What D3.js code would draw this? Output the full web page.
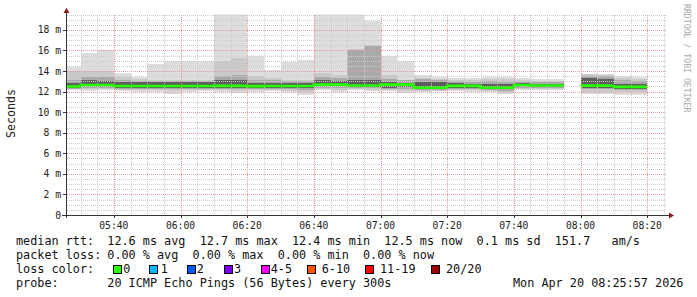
<!DOCTYPE html>
<html>
<head>
<meta charset="utf-8">
<script src="https://cdn.jsdelivr.net/npm/d3@7"></script>
<style>
body { margin: 0; background: #fff; }
text { font-family: "DejaVu Sans Mono", monospace; white-space: pre; }
</style>
</head>
<body>
<svg id="chart" width="697" height="297"></svg>
<script>
// 5 minute bins (start time), ping rtt in ms
var times = ["05:25", "05:30", "05:35", "05:40", "05:45", "05:50", "05:55",
    "06:00", "06:05", "06:10", "06:15", "06:20", "06:25", "06:30", "06:35",
    "06:40", "06:45", "06:50", "06:55", "07:00", "07:05", "07:10", "07:15",
    "07:20", "07:25", "07:30", "07:35", "07:40", "07:45", "07:50", "07:55",
    "08:00", "08:05", "08:10", "08:15"];

var rttMax = [14.4, 15.8, 16.05, 13.85, 13.45, 14.7, 15.0, 15.0, 15.0, 19.8,
    19.8, 15.5, 14.1, 14.9, 15.1, 19.8, 19.8, 19.8, 18.9, 15.5, 15.0, 13.6,
    13.4, 13.3, 13.3, 13.4, 13.45, 13.3, 13.2, 13.2, null, 13.75, 13.75, 13.5,
    13.4];
var rttHi2 = [14.0, 14.05, 14.0, 13.45, 13.2, 13.15, 13.1, 13.1, 13.1, 15.0,
    15.3, 13.5, 13.3, 13.1, 13.1, 13.85, 13.6, 16.1, 16.5, 13.6, 13.1, 13.3,
    13.2, 13.1, 13.1, 13.2, 13.2, 13.1, 13.05, 13.05, null, 13.7, 13.65, 13.3,
    13.2];
var rttHi3 = [13.1, 13.45, 13.4, 13.1, 13.0, 13.0, 13.0, 13.0, 13.0, 13.5,
    13.6, 13.1, 13.1, 13.0, 13.0, 13.45, 13.3, 16.0, 16.4, 13.2, 13.1, 13.2,
    13.15, 13.0, 12.95, 13.0, 12.95, 12.95, 12.9, 12.9, null, 13.55, 13.5,
    13.1, 13.0];
var rttHi4 = [12.8, 13.1, 13.05, 12.95, 12.9, 12.95, 12.9, 12.9, 12.9, 13.1,
    13.1, 12.85, 12.85, 12.85, 12.85, 13.1, 13.0, 13.1, 13.1, 12.9, 12.85,
    12.95, 12.95, 12.8, 12.7, 12.75, 12.7, 12.8, 12.7, 12.7, null, 13.3, 13.25,
    12.75, 12.7];
var median = [12.5, 12.65, 12.65, 12.55, 12.55, 12.55, 12.55, 12.55, 12.55,
    12.56, 12.56, 12.53, 12.55, 12.55, 12.55, 12.68, 12.68, 12.6, 12.6, 12.68,
    12.68, 12.37, 12.37, 12.56, 12.56, 12.37, 12.37, 12.65, 12.6, 12.6, null,
    12.58, 12.58, 12.46, 12.46];
var rttLo4 = [12.4, 12.5, 12.5, 12.4, 12.4, 12.4, 12.4, 12.4, 12.4, 12.4,
    12.4, 12.4, 12.4, 12.4, 12.4, 12.5, 12.5, 12.45, 12.45, 12.4, 12.45, 12.25,
    12.25, 12.4, 12.4, 12.25, 12.25, 12.5, 12.45, 12.45, null, 12.4, 12.4,
    12.3, 12.3];
var rttLo3 = [12.3, 12.4, 12.4, 12.3, 12.25, 12.3, 12.25, 12.3, 12.3, 12.3,
    12.25, 12.3, 12.3, 12.25, 12.2, 12.4, 12.35, 12.35, 12.35, 12.3, 12.3,
    12.2, 12.2, 12.3, 12.3, 12.15, 12.1, 12.4, 12.35, 12.35, null, 12.25,
    12.25, 12.2, 12.15];
var rttLo2 = [12.22, 12.25, 12.28, 12.2, 12.12, 12.15, 12.05, 12.15, 12.2,
    12.15, 12.1, 12.15, 12.2, 12.1, 12.0, 12.25, 12.2, 12.25, 12.2, 12.2, 12.1,
    12.1, 12.1, 12.2, 12.15, 12.1, 12.0, 12.3, 12.25, 12.25, null, 12.0, 12.0,
    12.0, 11.95];
var rttMin = [12.15, 12.1, 12.12, 12.05, 12.0, 12.0, 11.8, 12.0, 12.05, 11.93,
    11.84, 12.0, 12.05, 11.95, 11.7, 12.15, 12.0, 12.15, 12.1, 12.05, 11.85,
    12.0, 12.05, 12.1, 12.0, 12.0, 11.8, 12.15, 12.15, 12.15, null, 11.75,
    11.75, 11.7, 11.7];
var loss = [0, 0, 0, 0, 0, 0, 0, 0, 0, 0, 0, 0, 0, 0, 0, 0, 0, 0, 0, 0, 0, 0,
    0, 0, 0, 0, 0, 0, 0, 0, null, 0, 0, 0, 0];

var lossLabels = ["0", "1", "2", "3", "4-5", "6-10", "11-19", "20/20"];
var lossColors = ["#26ff00", "#00b8ff", "#0059ff", "#7e00ff", "#ff00ff",
    "#ff5500", "#ff0000", "#a10000"];
var yTicks = [0, 2, 4, 6, 8, 10, 12, 14, 16, 18];

var statLines = [
    ["median rtt:", "12.6 ms avg  12.7 ms max  12.4 ms min  12.5 ms now  0.1 ms sd  151.7   am/s"],
    ["packet loss:", "0.00 % avg  0.00 % max  0.00 % min  0.00 % now"],
    ["loss color:", ""],
    ["probe:", "20 ICMP Echo Pings (56 Bytes) every 300s"]
];
var stamp = "Mon Apr 20 08:25:57 2026";

//Layout (names avoid window.top etc.)
var pLeft = 67, pRight = 667, pTop = 14.5, pBottom = 215;
var parse = d3.timeParse("%Y-%m-%d %H:%M:%S");
var t0 = parse("2026-04-20 05:25:57"),
    t1 = parse("2026-04-20 08:25:57");

var x = d3.scaleTime().domain([t0, t1]).range([pLeft, pRight]);
var y = d3.scaleLinear().domain([0, 19.5]).range([pBottom, pTop]);

var svg = d3.select("#chart");
svg.append("rect").attr("width", 697).attr("height", 297).attr("fill", "#fff");

svg.append("defs").append("clipPath").attr("id", "plot")
    .append("rect")
    .attr("x", pLeft).attr("y", pTop)
    .attr("width", pRight - pLeft).attr("height", pBottom - pTop);

var bins = times.map(function(t, i) {
    var s = parse("2026-04-20 " + t + ":00");
    return {i: i, start: s, end: d3.timeMinute.offset(s, 5)};
});

//Smoke: outer pings light, inner pings dark
var bands = [
    {lo: rttMin, hi: rttMax, color: "#dddddd"},
    {lo: rttLo2, hi: rttHi2, color: "#c9c9c9"},
    {lo: rttLo3, hi: rttHi3, color: "#a9a9a9"},
    {lo: rttLo4, hi: rttHi4, color: "#5e5e5e"}
];

var smoke = svg.append("g").attr("clip-path", "url(#plot)");
bands.forEach(function(b) {
    smoke.append("g").selectAll("rect")
        .data(bins.filter(function(d) { return b.hi[d.i] != null; }))
        .enter().append("rect")
        .attr("x", function(d) { return x(d.start); })
        .attr("width", function(d) { return x(d.end) - x(d.start); })
        .attr("y", function(d) { return y(b.hi[d.i]); })
        .attr("height", function(d) { return y(b.lo[d.i]) - y(b.hi[d.i]); })
        .attr("fill", b.color)
        .attr("shape-rendering", "crispEdges");
});

//Grid
var grid = svg.append("g").attr("shape-rendering", "crispEdges")
    .attr("stroke-dasharray", "1,1").attr("stroke-width", 1);
var minorT = d3.timeMinute.every(5).range(t0, t1);
var majorT = d3.timeMinute.every(20).range(t0, t1);
var minorV = d3.range(0.5, 19.51, 0.5).filter(function(v) { return v % 2; });
var majorV = yTicks.filter(function(v) { return v > 0; });

grid.selectAll(".vmin").data(minorT).enter().append("line")
    .attr("x1", function(d) { return Math.round(x(d)) + 0.5; })
    .attr("x2", function(d) { return Math.round(x(d)) + 0.5; })
    .attr("y1", pTop).attr("y2", pBottom)
    .attr("stroke", "#cccccc");
grid.selectAll(".hmin").data(minorV).enter().append("line")
    .attr("x1", pLeft).attr("x2", pRight)
    .attr("y1", function(d) { return Math.round(y(d)) + 0.5; })
    .attr("y2", function(d) { return Math.round(y(d)) + 0.5; })
    .attr("stroke", "#cccccc");
grid.selectAll(".vmaj").data(majorT).enter().append("line")
    .attr("x1", function(d) { return Math.round(x(d)) + 0.5; })
    .attr("x2", function(d) { return Math.round(x(d)) + 0.5; })
    .attr("y1", pTop).attr("y2", pBottom)
    .attr("stroke", "#e59b9b");
grid.selectAll(".hmaj").data(majorV).enter().append("line")
    .attr("x1", pLeft).attr("x2", pRight)
    .attr("y1", function(d) { return Math.round(y(d)) + 0.5; })
    .attr("y2", function(d) { return Math.round(y(d)) + 0.5; })
    .attr("stroke", "#e59b9b");

//Median line, coloured by loss
var line = d3.line();
var med = svg.append("g").attr("clip-path", "url(#plot)");
bins.forEach(function(d, i) {
    if (median[i] == null) return;
    var pts = [];
    if (i > 0 && median[i - 1] != null) pts.push([x(d.start), y(median[i - 1])]);
    pts.push([x(d.start), y(median[i])], [x(d.end), y(median[i])]);
    var c = loss[i] == 0 ? 0 : loss[i] <= 3 ? loss[i] : loss[i] <= 5 ? 4 :
        loss[i] <= 10 ? 5 : loss[i] < 20 ? 6 : 7;
    med.append("path")
        .attr("d", line(pts))
        .attr("fill", "none")
        .attr("stroke", lossColors[c])
        .attr("stroke-width", 2.6);
});

//Axes
var axisColor = "#333";
svg.append("line").attr("x1", 62).attr("x2", 670)
    .attr("y1", pBottom + 0.5).attr("y2", pBottom + 0.5)
    .attr("stroke", axisColor);
svg.append("line").attr("x1", pLeft - 0.5).attr("x2", pLeft - 0.5)
    .attr("y1", pBottom + 3).attr("y2", 11)
    .attr("stroke", axisColor);
svg.append("path").attr("d", "M669,212.5L674,215.5L669,218.5Z")
    .attr("fill", "#8b1a1a");
svg.append("path").attr("d", "M63.5,13L66.5,8L69.5,13Z")
    .attr("fill", "#8b1a1a");

svg.append("g").selectAll("line").data(yTicks).enter().append("line")
    .attr("x1", pLeft - 4).attr("x2", pLeft)
    .attr("y1", function(d) { return Math.round(y(d)) + 0.5; })
    .attr("y2", function(d) { return Math.round(y(d)) + 0.5; })
    .attr("stroke", axisColor);
svg.append("g").selectAll("line").data(majorT).enter().append("line")
    .attr("x1", function(d) { return Math.round(x(d)) + 0.5; })
    .attr("x2", function(d) { return Math.round(x(d)) + 0.5; })
    .attr("y1", pBottom).attr("y2", pBottom + 3)
    .attr("stroke", axisColor);

svg.append("g").selectAll("text").data(yTicks).enter().append("text")
    .attr("x", 61).attr("y", function(d) { return y(d) + 3.5; })
    .attr("text-anchor", "end")
    .attr("font-size", "9.7px").attr("fill", "#222")
    .text(function(d) { return d ? d + " m" : "0"; });

var fmt = d3.timeFormat("%H:%M");
svg.append("g").selectAll("text").data(majorT).enter().append("text")
    .attr("x", function(d) { return x(d); }).attr("y", 228.5)
    .attr("text-anchor", "middle")
    .attr("font-size", "9.7px").attr("fill", "#222")
    .text(fmt);

svg.append("text")
    .attr("transform", "translate(15,113.5) rotate(-90)")
    .attr("text-anchor", "middle")
    .attr("font-size", "11.6px").attr("fill", "#222")
    .text("Seconds");

svg.append("text")
    .attr("transform", "translate(684,4) rotate(90)")
    .attr("font-size", "8.2px").attr("fill", "#aaaaaa")
    .text("RRDTOOL / TOBI OETIKER");

//Legend
var rowY = [245, 259, 272.5, 287];
statLines.forEach(function(s, i) {
    svg.append("text").attr("x", 16).attr("y", rowY[i])
        .attr("font-size", "11.8px").attr("fill", "#111").text(s[0]);
    svg.append("text").attr("x", 107.3).attr("y", rowY[i])
        .attr("font-size", "11.8px").attr("fill", "#111").text(s[1]);
});
svg.append("text").attr("x", 513).attr("y", rowY[3])
    .attr("font-size", "11.8px").attr("fill", "#111").text(stamp);

var boxX = [112.7, 149.3, 186.7, 224, 260.7, 307.3, 365, 430.7];
var labelX = [123.3, 160.7, 196.7, 234, 270.7, 321.7, 380, 446];
var key = svg.append("g").selectAll("g").data(lossLabels).enter().append("g");
key.append("rect")
    .attr("x", function(d, i) { return Math.round(boxX[i]) + 0.5; })
    .attr("y", 265.5).attr("width", 8).attr("height", 8)
    .attr("fill", function(d, i) { return lossColors[i]; })
    .attr("stroke", "#000");
key.append("text")
    .attr("x", function(d, i) { return labelX[i]; })
    .attr("y", rowY[2])
    .attr("font-size", "11.8px").attr("fill", "#111")
    .text(function(d) { return d; });
</script>
</body>
</html>
